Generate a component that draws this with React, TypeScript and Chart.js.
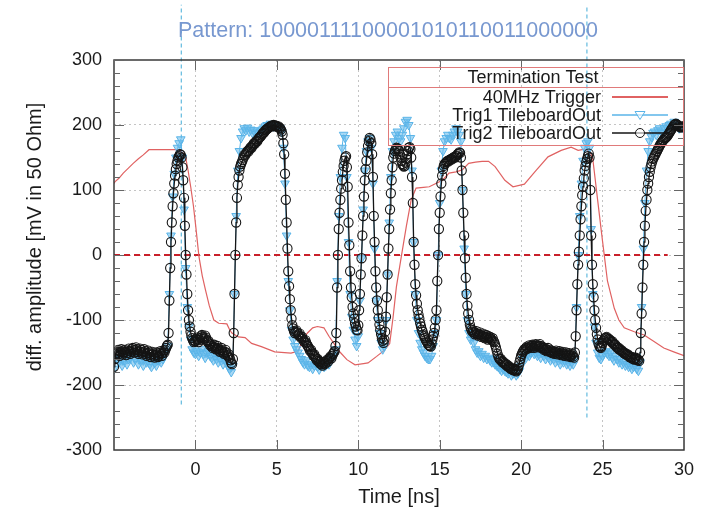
import React, { useEffect, useRef } from 'react';
import { Chart, registerables } from 'chart.js';
Chart.register(...registerables);

const FONT = "'Liberation Sans', Arial, Helvetica, sans-serif";

const TITLE = 'Pattern: 10000111100001010110011000000';
const X_LABEL = 'Time [ns]';
const Y_LABEL = 'diff. amplitude [mV in 50 Ohm]';
const LEGEND_TITLE = 'Termination Test';
const SERIES_NAMES = ['40MHz Trigger', 'Trig1 TileboardOut', 'Trig2 TileboardOut'];

const X_MIN = -5;
const X_MAX = 30;
const Y_MIN = -300;
const Y_MAX = 300;
const X_TICKS = [0, 5, 10, 15, 20, 25, 30];
const Y_TICKS = [-300, -200, -100, 0, 100, 200, 300];
const Y_MINOR_TICKS = [-280, -260, -240, -220, -180, -160, -140, -120, -80, -60, -40, -20, 20, 40, 60, 80, 120, 140, 160, 180, 220, 240, 260, 280];

// Trig2 TileboardOut: samples every 0.05 ns starting at -5 ns
const TRIG2_START = -5;
const TRIG2_STEP = 0.05;
const trig2Values = [
  -172, -160, -152, -148, -150, -146, -152, -155, -149, -145, -148, -153, -150, -146, -149, -154, -151, -147, -144, -148,
  -152, -149, -145, -143, -147, -150, -146, -142, -145, -149, -152, -148, -144, -146, -150, -153, -149, -145, -148, -152,
  -155, -151, -147, -150, -154, -157, -153, -149, -152, -156, -158, -154, -150, -153, -157, -155, -151, -148, -152, -155,
  -151, -147, -150, -146, -143, -140, -138, -120, -70, -20, 20, 50, 75, 95, 110, 122, 132, 140, 145, 150,
  152, 155, 154, 150, 135, 115, 88, 45, 0, -30, -60, -85, -100, -110, -118, -124, -128, -131, -134, -132,
  -133, -130, -127, -130, -134, -131, -128, -125, -123, -126, -129, -127, -124, -127, -131, -134, -132, -136, -139, -137,
  -140, -143, -141, -138, -142, -145, -143, -140, -144, -147, -149, -146, -143, -147, -150, -152, -149, -146, -150, -154,
  -156, -153, -158, -162, -166, -168, -160, -120, -60, 0, 50, 88, 108, 120, 130, 136, 140, 143, 146, 150,
  154, 153, 156, 158, 160, 159, 162, 164, 166, 165, 168, 170, 172, 171, 174, 176, 175, 178, 180, 181,
  182, 184, 186, 188, 188, 190, 192, 193, 194, 195, 196, 197, 198, 199, 198, 199, 200, 199, 198, 199,
  198, 197, 198, 196, 195, 193, 190, 185, 172, 155, 125, 85, 50, 10, -25, -48, -68, -85, -98, -108,
  -113, -117, -120, -118, -116, -119, -122, -124, -121, -125, -128, -126, -129, -132, -134, -131, -135, -138, -140, -142,
  -145, -148, -146, -150, -152, -155, -153, -157, -159, -162, -160, -163, -165, -167, -164, -168, -170, -167, -165, -168,
  -166, -163, -161, -164, -160, -158, -156, -159, -155, -152, -150, -148, -140, -120, -50, 0, 40, 65, 85, 102,
  115, 128, 137, 145, 150, 152, 135, 105, 50, 15, -25, -50, -65, -80, -90, -98, -105, -110, -115, -116,
  -108, -85, -60, -30, -5, 30, 60, 90, 115, 132, 145, 158, 168, 175, 180, 178, 172, 155, 120, 60,
  20, -25, -50, -70, -85, -97, -107, -115, -122, -128, -132, -135, -130, -118, -95, -65, -30, 10, 40, 70,
  95, 115, 135, 150, 156, 160, 163, 165, 164, 163, 160, 155, 150, 145, 140, 138, 136, 137, 142, 148,
  155, 160, 165, 166, 163, 150, 120, 80, 20, -15, -45, -62, -75, -85, -92, -98, -105, -110, -115, -118,
  -122, -125, -128, -131, -133, -135, -138, -139, -140, -141, -136, -130, -125, -120, -112, -100, -85, -40, 0, 40,
  65, 90, 110, 122, 132, 137, 140, 141, 143, 144, 145, 144, 146, 147, 148, 147, 149, 150, 151, 150,
  152, 153, 155, 156, 158, 157, 150, 130, 100, 65, 30, -5, -35, -60, -78, -90, -100, -107, -112, -115,
  -118, -116, -119, -122, -120, -117, -121, -124, -122, -119, -123, -126, -124, -121, -125, -128, -126, -123, -127, -130,
  -125, -128, -126, -129, -131, -128, -132, -134, -138, -142, -147, -152, -156, -159, -161, -160, -163, -165, -164, -166,
  -168, -167, -170, -169, -172, -171, -173, -175, -174, -176, -177, -175, -178, -176, -179, -177, -175, -170, -165, -160,
  -155, -152, -149, -147, -145, -146, -143, -141, -144, -142, -139, -141, -143, -140, -138, -141, -143, -140, -137, -139,
  -139, -142, -140, -137, -140, -143, -141, -144, -146, -143, -145, -148, -146, -143, -147, -149, -146, -149, -151, -148,
  -150, -152, -149, -147, -150, -153, -151, -148, -152, -154, -151, -149, -153, -155, -152, -150, -154, -156, -153, -151,
  -155, -157, -154, -152, -156, -158, -150, -125, -85, -45, -15, 5, 30, 55, 75, 92, 105, 118, 130, 137,
  143, 148, 152, 156, 150, 100, 30, -15, -45, -65, -85, -100, -112, -122, -130, -136, -140, -142, -143, -140,
  -135, -132, -130, -128, -127, -126, -128, -130, -129, -131, -132, -134, -133, -136, -138, -137, -139, -141, -143, -142,
  -145, -144, -146, -148, -147, -149, -150, -152, -151, -153, -154, -153, -155, -157, -156, -158, -159, -157, -160, -161,
  -159, -158, -160, -162, -161, -163, -150, -120, -90, -50, -15, 20, 45, 68, 85, 100, 110, 120, 128, 135,
  140, 144, 148, 150, 153, 155, 158, 160, 163, 165, 168, 170, 172, 174, 176, 177, 179, 180, 181, 182,
  184, 186, 188, 190, 192, 194, 196, 198, 200, 201, 202, 201, 200, 199, 198, 197, 196, 197, 197, 198,
  198,
];

// Trig1 TileboardOut: samples every 0.1 ns starting at -5 ns
const TRIG1_START = -5;
const TRIG1_STEP = 0.1;
const trig1Values = [
  -175, -158, -160, -165, -158, -170, -162, -155, -168, -160,
  -158, -150, -165, -160, -152, -168, -158, -162, -170, -158,
  -165, -158, -168, -172, -160, -166, -170, -162, -158, -165,
  -160, -152, -148, -140, -60, 30, 90, 125, 150, 165,
  172, 178, 150, 70, -20, -80, -110, -130, -145, -150,
  -152, -148, -155, -150, -145, -152, -158, -150, -148, -155,
  -158, -162, -155, -160, -165, -158, -162, -168, -160, -165,
  -170, -175, -180, -170, -60, 60, 130, 160, 180, 190,
  195, 192, 196, 190, 193, 188, 192, 186, 190, 188,
  190, 193, 195, 198, 200, 198, 202, 200, 198, 200,
  198, 196, 195, 190, 165, 110, 30, -40, -85, -115,
  -130, -140, -145, -150, -155, -160, -165, -168, -162, -170,
  -172, -168, -175, -170, -165, -172, -176, -170, -168, -172,
  -170, -165, -168, -160, -158, -155, -145, -40, 60, 120,
  165, 185, 180, 120, 20, -60, -95, -115, -130, -140,
  -125, -70, -5, 70, 130, 160, 175, 180, 165, 110,
  10, -70, -100, -120, -135, -145, -140, -100, -30, 50,
  120, 160, 175, 185, 190, 180, 175, 185, 195, 205,
  208, 200, 180, 130, 20, -60, -100, -120, -135, -145,
  -150, -155, -158, -160, -160, -155, -140, -120, -100, 0,
  80, 130, 160, 175, 180, 185, 180, 178, 185, 190,
  195, 190, 185, 175, 100, 10, -60, -100, -120, -130,
  -125, -135, -145, -150, -148, -155, -152, -158, -155, -160,
  -158, -162, -165, -160, -168, -170, -172, -175, -178, -175,
  -178, -180, -182, -178, -185, -182, -180, -185, -182, -178,
  -170, -160, -155, -158, -152, -155, -150, -148, -152, -150,
  -155, -152, -158, -150, -155, -160, -155, -158, -162, -158,
  -160, -165, -158, -162, -168, -160, -165, -162, -168, -165,
  -170, -165, -168, -160, -80, 0, 60, 110, 145, 165,
  172, 175, 165, 40, -60, -110, -135, -150, -158, -160,
  -155, -150, -148, -152, -155, -150, -158, -162, -155, -160,
  -165, -160, -168, -165, -170, -168, -172, -170, -175, -172,
  -170, -175, -178, -165, -80, 10, 80, 130, 160, 175,
  182, 188, 190, 185, 192, 195, 190, 188, 195, 198,
  195, 200, 202, 198, 205, 200, 198, 195, 198, 196,
  198,
];

// 40MHz Trigger
const triggerTimes = [-5, -4.93, -4.7, -4.43, -4.1, -3.82, -3.5, -3.2, -2.85, -1.0, -0.8, -0.59, -0.45, -0.29, -0.12, 0.02, 0.22, 0.42, 0.62, 0.85, 1.13, 1.43, 1.93, 2.1, 2.24, 2.64, 3.05, 3.45, 4.05, 4.87, 5.87, 6.3, 6.6, 6.88, 7.2, 7.49, 7.89, 8.2, 8.5, 8.9, 9.3, 9.8, 10.32, 10.6, 11.13, 11.63, 11.93, 12.14, 12.34, 12.64, 12.95, 13.25, 13.55, 14.0, 14.36, 14.76, 15.17, 15.57, 16.0, 16.38, 16.78, 17.2, 17.6, 18.0, 18.4, 19.0, 19.5, 20.2, 20.84, 21.65, 22.46, 23.07, 23.5, 23.9, 24.2, 24.4, 24.7, 25.0, 25.3, 25.72, 26.0, 26.33, 26.95, 27.55, 28.16, 28.76, 29.37, 30];
const triggerValues = [110, 113, 118, 126, 134, 141, 148, 154, 162, 162, 158, 149, 130, 105, 75, 44, -3, -32, -54, -78, -100, -105, -106, -115, -120, -126, -127, -136, -141, -149, -151, -148, -130, -120, -112, -110, -112, -125, -136, -150, -161, -169, -167, -166, -156, -146, -136, -95, -49, -3, 44, 85, 103, 104, 105, 110, 115, 126, 128, 131, 141, 143, 144, 144, 136, 115, 105, 109, 128, 151, 161, 166, 161, 163, 160, 148, 84, 21, -40, -82, -100, -112, -118, -123, -133, -143, -149, -155];

// reference lines
const zeroLineTimes = [-5, 29];
const zeroLineValues = [0, 0];
const markerTimes = [-0.87, 24.04];
const markerLow = [-230, -250];
const markerHigh = [385, 385];

const COLORS = {
  trigger: '#e06262',
  trig1: '#5ab4e8',
  trig1Fill: 'rgba(110,190,236,0.6)',
  trig2: '#151515',
  zero: '#c8202a',
  marker: '#42acd8',
  title: '#7898d0',
  legendBox: '#e07a7a',
  text: '#1a1a1a',
  grid: '#c4c4c4',
  frame: '#3a3a3a',
  tick: '#666666',
};

const series = (start: number, step: number, vals: number[]) => vals.map((v, i) => ({ x: +(start + i * step).toFixed(3), y: v }));
const pairs = (xs: number[], ys: number[]) => xs.map((x, i) => ({ x, y: ys[i] }));

const decorPlugin = {
  id: 'decor',
  afterDatasetsDraw(chart: any) {
    const { ctx, chartArea: a, scales } = chart;
    const x = scales.x;
    const y = scales.y;
    ctx.save();
    // frame
    ctx.strokeStyle = COLORS.frame;
    ctx.lineWidth = 1.5;
    ctx.strokeRect(a.left, a.top, a.right - a.left, a.bottom - a.top);
    // ticks (inside, mirrored)
    ctx.strokeStyle = COLORS.tick;
    ctx.lineWidth = 1;
    ctx.beginPath();
    const yTick = (v: number, len: number) => {
      const py = Math.round(y.getPixelForValue(v)) + 0.5;
      ctx.moveTo(a.left, py); ctx.lineTo(a.left + len, py);
      ctx.moveTo(a.right, py); ctx.lineTo(a.right - len, py);
    };
    Y_TICKS.forEach((v) => yTick(v, 10));
    Y_MINOR_TICKS.forEach((v) => yTick(v, 6));
    X_TICKS.forEach((v) => {
      const px = Math.round(x.getPixelForValue(v)) + 0.5;
      ctx.moveTo(px, a.bottom); ctx.lineTo(px, a.bottom - 10);
      ctx.moveTo(px, a.top); ctx.lineTo(px, a.top + 10);
    });
    ctx.stroke();

    // title
    ctx.fillStyle = COLORS.title;
    ctx.font = `21.5px ${FONT}`;
    ctx.textAlign = 'center';
    ctx.textBaseline = 'middle';
    ctx.fillText(TITLE, 388, 31);

    // axis titles
    ctx.fillStyle = COLORS.text;
    ctx.font = `20px ${FONT}`;
    ctx.fillText(X_LABEL, 399, 497);
    ctx.save();
    ctx.translate(35, 237);
    ctx.rotate(-Math.PI / 2);
    ctx.fillText(Y_LABEL, 0, 0);
    ctx.restore();

    // legend
    const bx = 388, by = 67, bw = 295, bh = 78;
    ctx.strokeStyle = COLORS.legendBox;
    ctx.lineWidth = 1;
    ctx.strokeRect(bx + 0.5, by + 0.5, bw, bh);
    ctx.beginPath();
    ctx.moveTo(bx, by + 20.5); ctx.lineTo(bx + bw, by + 20.5);
    ctx.stroke();
    ctx.fillStyle = COLORS.text;
    ctx.font = `18px ${FONT}`;
    ctx.textAlign = 'center';
    ctx.fillText(LEGEND_TITLE, 533, 78);
    ctx.textAlign = 'right';
    const rows = [97, 115, 133];
    const cols = [COLORS.trigger, COLORS.trig1, COLORS.trig2];
    SERIES_NAMES.forEach((name, i) => {
      ctx.fillStyle = COLORS.text;
      ctx.fillText(name, 601, rows[i] + 1);
      ctx.strokeStyle = cols[i];
      ctx.lineWidth = i === 0 ? 2 : 1.3;
      ctx.beginPath();
      ctx.moveTo(612, rows[i]); ctx.lineTo(668, rows[i]);
      ctx.stroke();
    });
    // legend markers
    ctx.lineWidth = 1;
    ctx.strokeStyle = COLORS.trig1;
    ctx.fillStyle = 'rgba(255,255,255,0.6)';
    ctx.beginPath();
    ctx.moveTo(635, rows[1] - 3.5); ctx.lineTo(645, rows[1] - 3.5); ctx.lineTo(640, rows[1] + 4.5); ctx.closePath();
    ctx.fill(); ctx.stroke();
    ctx.strokeStyle = COLORS.trig2;
    ctx.beginPath();
    ctx.arc(640, rows[2], 4.5, 0, Math.PI * 2);
    ctx.fill(); ctx.stroke();
    ctx.restore();
  },
};

export default function App() {
  const ref = useRef<HTMLCanvasElement>(null);
  useEffect(() => {
    if (!ref.current) return;
    const gridColor = (edgeVals: number[]) => (c: any) => (c.tick && edgeVals.includes(c.tick.value) ? 'rgba(0,0,0,0)' : COLORS.grid);
    const chart = new Chart(ref.current, {
      type: 'line',
      data: {
        datasets: [
          {
            label: SERIES_NAMES[2],
            data: series(TRIG2_START, TRIG2_STEP, trig2Values),
            borderColor: COLORS.trig2,
            borderWidth: 1.3,
            pointStyle: 'circle',
            pointRadius: 4.6,
            pointBorderWidth: 1.1,
            pointBorderColor: COLORS.trig2,
            pointBackgroundColor: 'rgba(0,0,0,0)',
            order: 0,
          },
          {
            label: SERIES_NAMES[1],
            data: series(TRIG1_START, TRIG1_STEP, trig1Values),
            borderColor: COLORS.trig1,
            borderWidth: 1,
            pointStyle: 'triangle',
            pointRotation: 180,
            pointRadius: 5,
            pointBorderWidth: 1,
            pointBorderColor: COLORS.trig1,
            pointBackgroundColor: COLORS.trig1Fill,
            order: 1,
          },
          {
            label: SERIES_NAMES[0],
            data: pairs(triggerTimes, triggerValues),
            borderColor: COLORS.trigger,
            borderWidth: 1.2,
            pointRadius: 0,
            order: 2,
          },
          {
            label: 'zero',
            data: pairs(zeroLineTimes, zeroLineValues),
            borderColor: COLORS.zero,
            borderWidth: 2,
            borderDash: [6, 4],
            pointRadius: 0,
            order: 3,
          },
          ...markerTimes.map((t, i) => ({
            label: 'marker' + i,
            data: [{ x: t, y: markerLow[i] }, { x: t, y: markerHigh[i] }],
            borderColor: COLORS.marker,
            borderWidth: 1,
            borderDash: [4, 3],
            pointRadius: 0,
            clip: false as any,
            order: 4,
          })),
        ] as any,
      },
      options: {
        animation: false,
        responsive: true,
        maintainAspectRatio: false,
        events: [],
        layout: { padding: { top: 60, right: 12, left: 0, bottom: 0 } },
        plugins: { legend: { display: false }, title: { display: false }, tooltip: { enabled: false } },
        scales: {
          x: {
            type: 'linear',
            min: X_MIN,
            max: X_MAX,
            afterFit: (s: any) => { s.height = 63; },
            afterBuildTicks: (s: any) => { s.ticks = X_TICKS.map((v) => ({ value: v })); },
            ticks: { padding: 9, color: COLORS.text, font: { family: FONT, size: 18 }, maxRotation: 0, autoSkip: false },
            grid: { color: gridColor([X_MIN, X_MAX]), lineWidth: 1, drawTicks: false },
            border: { display: false, dash: [2, 3] },
          },
          y: {
            type: 'linear',
            min: Y_MIN,
            max: Y_MAX,
            afterFit: (s: any) => { s.width = 114; },
            afterBuildTicks: (s: any) => { s.ticks = Y_TICKS.map((v) => ({ value: v })); },
            ticks: { padding: 12, color: COLORS.text, font: { family: FONT, size: 18 }, autoSkip: false },
            grid: { color: gridColor([Y_MIN, Y_MAX]), lineWidth: 1, drawTicks: false },
            border: { display: false, dash: [2, 3] },
          },
        },
      } as any,
      plugins: [decorPlugin],
    });
    return () => chart.destroy();
  }, []);
  return (
    <div style={{ position: 'fixed', left: 0, top: 0, width: 703, height: 513, background: '#ffffff' }}>
      <canvas ref={ref} />
    </div>
  );
}
